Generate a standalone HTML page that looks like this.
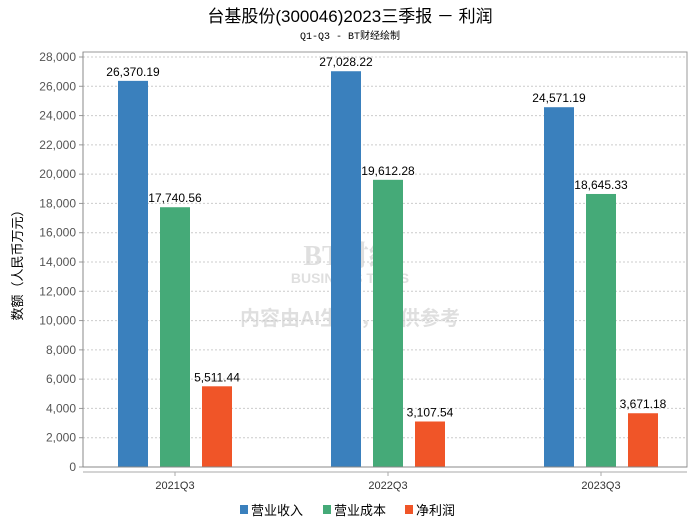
<!DOCTYPE html>
<html><head><meta charset="utf-8"><style>
body{margin:0;background:#fff;font-family:"Liberation Sans","Noto Sans CJK SC",sans-serif;}
</style></head><body>
<svg width="700" height="524" xmlns="http://www.w3.org/2000/svg" id="chart">
<text x="350" y="22" text-anchor="middle" font-size="17" font-family="Liberation Sans,Noto Sans CJK SC,sans-serif" fill="#000">台基股份(300046)2023三季报 － 利润</text>
<text x="350" y="39" text-anchor="middle" font-size="10" font-family="Liberation Mono,Noto Sans CJK SC,monospace" fill="#000">Q1-Q3 - BT财经绘制</text>
<text x="22" y="262" text-anchor="middle" font-size="13" transform="rotate(-90 22 262)" font-family="Liberation Sans,Noto Sans CJK SC,sans-serif">数额（人民币万元）</text>
<g opacity="0.18"><text x="350" y="265" text-anchor="middle" font-size="28" font-weight="bold" fill="#555" font-family="Liberation Serif,Noto Serif CJK SC,serif">BT财经</text><text x="350" y="283" text-anchor="middle" font-size="14" font-weight="bold" fill="#555">BUSINESS TIMES</text><text x="350" y="325" text-anchor="middle" font-size="20" font-weight="bold" fill="#555" font-family="Liberation Sans,Noto Sans CJK SC,sans-serif">内容由AI生成，仅供参考</text></g>
<g id="grid"></g><g id="bars"></g><g id="axes"></g>
<g font-size="13" font-family="Liberation Sans,Noto Sans CJK SC,sans-serif">
<rect x="240" y="505" width="8" height="9" fill="#3a80bd"/><text x="251" y="515">营业收入</text>
<rect x="323" y="505" width="8" height="9" fill="#45aa78"/><text x="334" y="515">营业成本</text>
<rect x="405" y="505" width="8" height="9" fill="#f05528"/><text x="416" y="515">净利润</text>
</g>
</svg>
<script>
const categories=["2021Q3","2022Q3","2023Q3"];
const revenue=[26370.19,27028.22,24571.19];
const cost=[17740.56,19612.28,18645.33];
const profit=[5511.44,3107.54,3671.18];
const yTicks=[0,2000,4000,6000,8000,10000,12000,14000,16000,18000,20000,22000,24000,26000,28000];
const NS="http://www.w3.org/2000/svg";
const X0=83,X1=687,Y0=467,YT=57,YMAX=28000;
const y=v=>Y0-(v/YMAX)*(Y0-YT);
const cx=i=>175+i*213;
function mk(t,a,p){const e=document.createElementNS(NS,t);for(const k in a)e.setAttribute(k,a[k]);p.appendChild(e);return e;}
const grid=document.getElementById('grid'),bars=document.getElementById('bars'),axes=document.getElementById('axes');
mk('rect',{x:X0,y:52,width:X1-X0,height:Y0-52,fill:'none',stroke:'#999'},grid);
yTicks.forEach(t=>{
 if(t>0){const l=mk('line',{x1:X0,x2:X1,y1:y(t),y2:y(t),stroke:'#ccc','stroke-dasharray':'2,2'},grid);
 
 }
 mk('line',{x1:X0-4,x2:X0,y1:y(t),y2:y(t),stroke:'#999'},axes);
 const tx=mk('text',{x:X0-7,y:y(t)+4,'text-anchor':'end','font-size':'12',fill:'#555'},axes);
 tx.textContent=t.toLocaleString('en-US');
 
 
});
mk('line',{x1:X0,x2:X0,y1:52,y2:Y0,stroke:'#888'},axes);
mk('line',{x1:X0,x2:X1,y1:Y0,y2:Y0,stroke:'#888'},axes);
mk('line',{x1:X0,x2:X1,y1:472,y2:472,stroke:'#aaa'},axes);
const series=[[revenue,'#3a80bd',-42],[cost,'#45aa78',0],[profit,'#f05528',42]];
categories.forEach((c,i)=>{
 mk('line',{x1:cx(i),x2:cx(i),y1:472,y2:476,stroke:'#aaa'},axes);
 const lb=mk('text',{x:cx(i),y:489,'text-anchor':'middle','font-size':'11',fill:'#333'},axes);
 lb.textContent=c;
 
 
 series.forEach(([d,col,off])=>{
  const b=mk('rect',{x:cx(i)+off-15,y:y(d[i]),width:30,height:Y0-y(d[i]),fill:col},bars);
  
  
  const v=mk('text',{x:cx(i)+off,y:y(d[i])-5,'text-anchor':'middle','font-size':'12',fill:'#000'},bars);
  v.textContent=d[i].toLocaleString('en-US',{minimumFractionDigits:2});
  
  
 });
});
</script>
</body></html>
